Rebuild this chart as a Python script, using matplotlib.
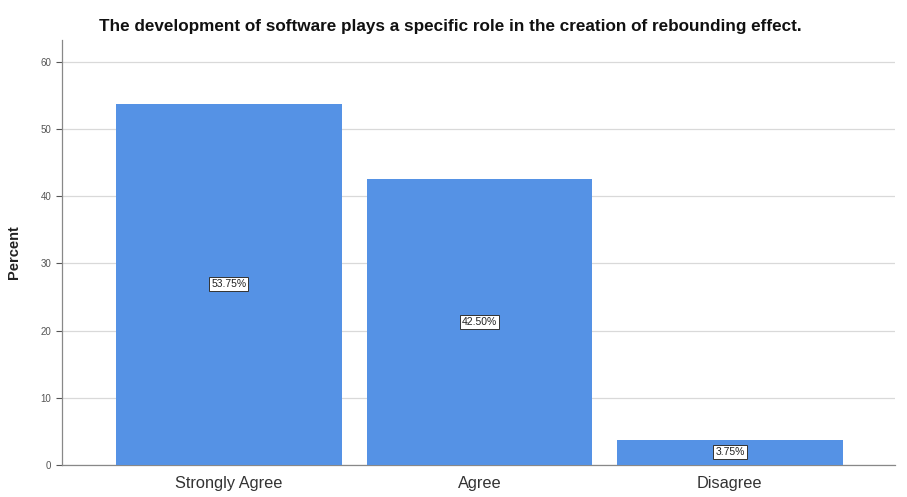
import matplotlib
matplotlib.use('Agg')
import matplotlib.pyplot as plt

categories = ['Strongly Agree', 'Agree', 'Disagree']
percents = [53.75, 42.50, 3.75]
bar_labels = ['53.75%', '42.50%', '3.75%']
yticks = [0, 10, 20, 30, 40, 50, 60]

plt.rcParams['font.family'] = ['Liberation Sans', 'DejaVu Sans']

fig = plt.figure(figsize=(9.07, 4.97), dpi=100)
ax = fig.add_axes([0.068, 0.0644, 0.919, 0.855])

x = list(range(len(categories)))
ax.bar(x, percents, width=0.9, color='#5592e5', zorder=3)

for xi, v, lbl in zip(x, percents, bar_labels):
    ax.text(xi, v / 2, lbl, ha='center', va='center', fontsize=7.5, color='#222222', zorder=4,
            bbox=dict(boxstyle='square,pad=0.2', facecolor='white', edgecolor='#333333', linewidth=0.7))

ax.set_xlim(-0.667, 2.66)
ax.set_ylim(0, 63.2)
ax.set_yticks(yticks)
ax.set_xticks(x)
ax.set_xticklabels(categories, fontsize=11.8, color='#333333')
ax.tick_params(axis='y', labelsize=7, colors='#555555', length=4, width=0.8)
ax.tick_params(axis='x', length=0, pad=8)
ax.yaxis.grid(True, color='#d9d9d9', linewidth=0.9, zorder=0)
ax.set_axisbelow(True)

ax.set_ylabel('Percent', fontsize=10.5, fontweight='bold', color='#222222', labelpad=14)
fig.text(0.497, 1 - 27 / 497,
         'The development of software plays a specific role in the creation of rebounding effect.',
         ha='center', va='center', fontsize=12.3, fontweight='bold', color='#111111')

for s in ['top', 'right']:
    ax.spines[s].set_visible(False)
for s in ['left', 'bottom']:
    ax.spines[s].set_color('#888888')
    ax.spines[s].set_linewidth(0.9)

fig.savefig('out.png', dpi=100)
